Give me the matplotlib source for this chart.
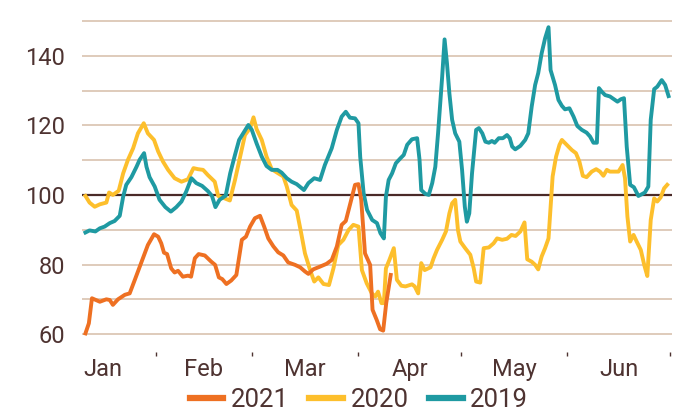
import matplotlib
matplotlib.use("Agg")
import matplotlib.pyplot as plt
import numpy as np

# day of year (0 = Jan 1) and index values
days_2021 = [10.5, 11.5, 12.4, 14.7, 16.6, 17.6, 18.5, 20.0, 22.0, 23.4, 24.9, 26.8,
             28.7, 30.5, 31.7, 32.6, 33.4, 34.3, 35.5, 36.5, 37.5, 38.9, 40.4, 41.3,
             42.4, 43.5, 45.3, 47.2, 48.3, 49.4, 50.4, 51.6, 53.0, 54.5, 56.1, 57.3,
             58.5, 59.9, 61.4, 62.6, 63.8, 65.3, 66.7, 68.2, 69.6, 71.6, 73.1, 74.5,
             75.5, 76.9, 78.9, 80.8, 82.3, 83.8, 85.2, 86.4, 87.6, 89.1, 90.1, 90.9,
             92.0, 93.5, 94.2, 95.4, 96.4, 97.3, 98.2, 99.5]
vals_2021 = [60.2, 63.1, 70.3, 69.3, 70.0, 69.8, 68.4, 70.0, 71.3, 71.7, 75.6, 80.6,
             85.6, 88.7, 88.0, 86.1, 83.4, 83.0, 78.9, 77.7, 78.2, 76.5, 76.8, 76.5,
             81.8, 83.0, 82.6, 80.8, 79.9, 76.3, 75.8, 74.4, 75.4, 77.0, 87.1, 88.0,
             90.9, 93.3, 94.0, 90.9, 87.5, 85.2, 83.5, 82.6, 80.6, 79.9, 79.2, 78.0,
             77.3, 78.6, 79.4, 80.2, 81.3, 85.2, 91.4, 92.5, 97.1, 102.9, 103.1, 98.6,
             83.2, 79.9, 67.0, 64.1, 61.4, 61.0, 69.0, 77.0]

days_2020 = [10.5, 11.7, 13.2, 14.7, 16.6, 17.4, 18.5, 20.2, 21.5, 22.9, 24.4, 25.8,
             27.5, 28.7, 30.5, 31.7, 33.1, 34.6, 36.5, 38.5, 40.4, 42.0, 43.3, 44.8,
             46.2, 48.2, 49.2, 51.1, 52.6, 54.1, 55.6, 57.0, 58.5, 59.5, 60.4, 61.9,
             63.3, 64.8, 66.7, 68.2, 69.2, 70.6, 72.1, 73.4, 74.5, 76.0, 77.2, 78.4,
             79.9, 81.5, 82.8, 84.2, 85.7, 87.2, 88.6, 90.1, 91.1, 92.5, 94.0, 95.0,
             95.8, 96.8, 97.5, 98.1, 99.1, 100.4, 101.3, 102.6, 103.8, 105.7, 106.5, 107.5,
             108.4, 109.4, 111.1, 112.0, 113.0, 114.5, 115.6, 116.6, 117.4, 118.3, 119.1, 119.8,
             121.2, 122.7, 123.7, 124.4, 125.6, 126.6, 128.1, 129.5, 130.5, 132.0, 133.4, 134.7,
             135.9, 137.3, 138.5, 139.3, 140.6, 141.6, 142.5, 143.5, 144.5, 145.5, 146.1, 146.7,
             147.7, 148.7, 149.4, 150.8, 152.3, 153.5, 154.5, 155.5, 156.6, 158.1, 159.4, 160.5,
             161.5, 162.5, 163.4, 164.7, 165.9, 167.1, 167.8, 168.5, 169.3, 170.3, 171.2, 172.4,
             173.4, 174.3, 175.3, 176.3, 177.2, 178.2, 179.2, 180.1]
vals_2020 = [99.7, 97.8, 96.6, 97.3, 97.8, 100.7, 100.0, 101.2, 106.2, 110.1, 113.4, 117.7,
             120.6, 117.7, 115.8, 112.5, 109.6, 107.2, 104.8, 103.8, 104.5, 107.7, 107.4, 107.2,
             105.7, 103.8, 99.7, 99.0, 98.4, 104.3, 111.0, 117.2, 119.2, 122.3, 118.9, 115.8,
             111.0, 107.4, 106.2, 105.3, 102.4, 97.1, 95.5, 89.0, 83.2, 78.4, 75.1, 76.3,
             74.4, 74.1, 78.9, 85.6, 87.1, 89.9, 91.4, 90.9, 78.4, 74.6, 71.7, 70.8,
             72.2, 68.9, 68.9, 78.9, 81.3, 84.7, 75.6, 73.9, 73.7, 74.3, 73.7, 71.7,
             80.4, 78.4, 79.2, 81.8, 84.2, 87.1, 89.5, 94.7, 97.6, 98.6, 89.9, 86.6,
             84.7, 82.8, 78.9, 75.1, 74.8, 84.7, 84.9, 86.1, 87.5, 87.1, 87.4, 88.5,
             88.2, 89.5, 92.1, 81.5, 80.8, 79.9, 78.6, 82.3, 84.7, 87.5, 96.6, 105.3,
             111.0, 114.4, 115.8, 114.4, 112.9, 112.0, 109.6, 105.5, 105.1, 106.7, 107.4, 106.7,
             105.5, 107.2, 106.7, 106.7, 106.7, 108.6, 104.8, 93.8, 86.6, 88.5, 86.6, 84.2,
             79.9, 76.7, 92.8, 99.0, 98.1, 99.3, 101.9, 102.9]

days_2019 = [10.5, 11.7, 13.4, 14.7, 16.1, 17.6, 19.0, 20.5, 21.5, 22.4, 23.9, 25.4,
             26.3, 27.6, 28.3, 29.2, 30.7, 32.1, 33.8, 35.4, 37.0, 38.5, 39.9, 41.4,
             42.8, 44.5, 46.2, 47.4, 48.4, 49.6, 51.4, 52.7, 54.1, 55.3, 56.5, 58.0,
             59.0, 60.4, 61.9, 63.3, 64.8, 66.5, 67.7, 69.2, 70.6, 72.1, 74.2, 75.5,
             77.2, 78.9, 80.3, 82.3, 83.8, 85.2, 86.4, 87.6, 89.1, 90.1, 90.6, 91.6,
             92.6, 94.1, 95.5, 96.5, 97.5, 98.1, 98.9, 99.9, 101.0, 102.3, 103.3, 104.3,
             105.7, 107.2, 107.9, 108.4, 109.6, 110.6, 111.6, 112.5, 113.3, 114.5, 115.2, 115.9,
             116.6, 117.4, 118.3, 119.5, 120.3, 121.1, 121.7, 122.4, 123.2, 124.4, 125.2, 126.2,
             127.1, 128.1, 129.0, 129.8, 131.0, 132.2, 133.4, 134.2, 134.9, 135.8, 137.3, 138.7,
             139.6, 140.6, 141.6, 142.5, 143.5, 144.5, 145.5, 146.1, 147.4, 148.4, 149.4, 150.3,
             151.6, 152.8, 153.9, 155.2, 156.6, 157.6, 158.6, 159.6, 160.2, 161.0, 162.0, 163.4,
             164.6, 165.6, 166.6, 167.5, 168.3, 169.3, 170.4, 171.7, 172.7, 173.6, 174.6, 175.3,
             176.3, 177.2, 178.5, 179.5, 180.5]
vals_2019 = [89.2, 89.8, 89.5, 90.4, 90.9, 91.9, 92.5, 94.0, 99.5, 102.9, 105.1, 108.1,
             110.1, 112.0, 108.1, 105.1, 102.4, 98.6, 96.5, 95.2, 96.5, 98.1, 101.0, 104.8,
             103.4, 102.6, 101.1, 99.7, 96.5, 98.6, 99.8, 106.2, 111.5, 115.8, 117.7, 120.1,
             118.7, 114.8, 111.0, 108.3, 107.2, 107.2, 106.4, 104.8, 103.8, 103.1, 101.4, 103.4,
             104.8, 104.3, 108.6, 113.4, 118.7, 122.5, 123.9, 122.2, 122.0, 120.6, 111.0, 100.5,
             95.7, 92.8, 91.9, 89.0, 87.5, 99.5, 104.3, 106.2, 109.1, 110.5, 111.5, 114.4,
             116.0, 116.3, 110.1, 101.4, 100.3, 100.0, 103.4, 108.1, 117.7, 134.0, 144.7, 137.8,
             129.2, 121.6, 117.7, 115.3, 107.2, 96.6, 92.3, 94.7, 106.2, 118.7, 119.2, 117.7,
             115.3, 115.0, 115.5, 115.0, 116.3, 116.3, 117.2, 116.3, 113.9, 113.1, 114.1, 115.8,
             117.7, 125.4, 131.6, 135.0, 140.7, 145.0, 148.2, 135.9, 131.6, 127.3, 125.6, 124.6,
             124.9, 122.5, 119.8, 118.7, 117.9, 116.8, 115.0, 115.0, 130.7, 129.7, 128.7, 128.3,
             127.5, 126.8, 127.5, 127.8, 113.9, 102.9, 102.2, 99.7, 100.2, 100.7, 102.4, 121.6,
             130.4, 131.1, 133.0, 131.6, 128.4]

month_names = ["Jan", "Feb", "Mar", "Apr", "May", "Jun"]
month_starts = [0, 31, 59, 90, 120, 151, 181]

TEXT = "#4e3331"
GRID = "#dfcbbb"

plt.rcParams["font.family"] = ["Roboto", "DejaVu Sans"]

fig = plt.figure(figsize=(6.79, 4.13), dpi=100)
ax = fig.add_axes([82 / 679, 1 - 351.5 / 413, 590 / 679, 332.3 / 413])

for v in range(60, 151, 10):
    if v != 100:
        ax.axhline(v, color=GRID, lw=1.4, zorder=1)
ax.axhline(100, color="#4a2a28", lw=1.6, zorder=2)

ax.plot(days_2021, vals_2021, color="#ee7022", lw=2.8, label="2021", zorder=5)
ax.plot(days_2020, vals_2020, color="#fdbf2c", lw=2.8, label="2020", zorder=3)
ax.plot(days_2019, vals_2019, color="#1f9aa2", lw=2.8, label="2019", zorder=4)

ax.set_xlim(9.5, 181.5)
ax.set_ylim(55, 150.5)

ax.set_yticks(range(60, 151, 10))
ax.set_yticklabels([str(v) if v % 20 == 0 and v < 150 else "" for v in range(60, 151, 10)])

mids = [(month_starts[i] + month_starts[i + 1]) / 2 for i in range(6)]
ax.set_xticks(mids)
ax.set_xticklabels(month_names)
ax.set_xticks(month_starts[1:], minor=True)

ax.tick_params(axis="y", length=0, pad=12, labelsize=17, labelcolor=TEXT)
ax.tick_params(axis="x", which="major", length=0, pad=5, labelsize=17, labelcolor=TEXT)
ax.tick_params(axis="x", which="minor", length=3, width=1, color=TEXT, direction="out")

for s in ax.spines.values():
    s.set_visible(False)

leg = fig.legend(loc="center", bbox_to_anchor=(359 / 679, 1 - 400 / 413), ncol=3,
                 frameon=False, fontsize=18.5, handlelength=1.3, handletextpad=0.3,
                 columnspacing=0.8)
for t in leg.get_texts():
    t.set_color(TEXT)
for h in leg.get_lines():
    h.set_linewidth(4.5)

fig.savefig("out.png", dpi=100)
